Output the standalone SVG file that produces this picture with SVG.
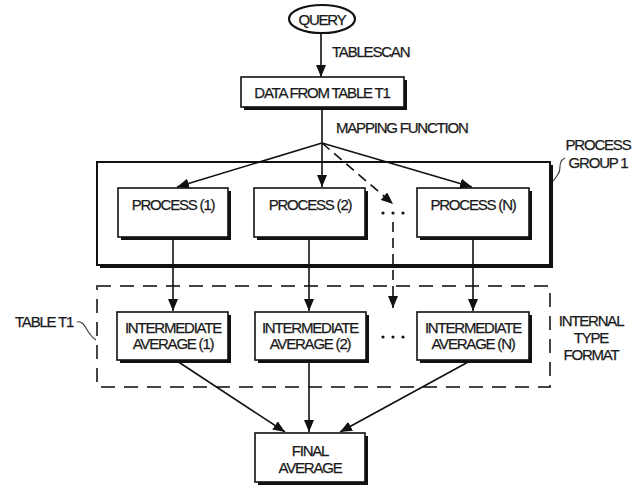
<svg xmlns="http://www.w3.org/2000/svg" width="644" height="487" viewBox="0 0 644 487">
<defs>
<style>
text{font-family:"Liberation Sans",Arial,sans-serif;font-size:15px;letter-spacing:-1.2px;fill:#1a1a1a;stroke:#1a1a1a;stroke-width:0.25px;}
.c{text-anchor:middle;}
.box{fill:#fff;stroke:#111;stroke-width:1.6;}
.sh{fill:none;stroke:#111;stroke-width:3;}
.ln{fill:none;stroke:#111;stroke-width:1.6;}
.dash{fill:none;stroke:#111;stroke-width:1.6;stroke-dasharray:10 6;}
.tbl{fill:none;stroke:#444;stroke-width:2;stroke-dasharray:14 9;}
.thin{fill:none;stroke:#444;stroke-width:1.2;}
</style>
<marker id="ah" markerUnits="userSpaceOnUse" markerWidth="12" markerHeight="10" refX="12" refY="5" orient="auto">
<path d="M0,0 L12,5 L0,10 z" fill="#111"/>
</marker>
</defs>
<rect width="644" height="487" fill="#fff"/>

<g id="process-group-1">
<rect x="97" y="162" width="453" height="103" fill="none" stroke="#111" stroke-width="2"/>
<polyline class="sh" points="100,266.5 551.5,266.5 551.5,165" stroke-width="3.5"/>
<text x="598" y="150" class="c">PROCESS</text>
<text x="598" y="168" class="c">GROUP 1</text>
<path class="thin" d="M565,158 C557,162 562,170 558,174 C556,177 555,179 553,181"/>
</g>

<g id="table-t1">
<rect class="tbl" x="97" y="286" width="453" height="101"/>
<text x="15" y="327">TABLE T1</text>
<path class="thin" d="M77,322 C84,320 86,330 90,334 C92,337 94,339 96,340"/>
<text x="591" y="326" class="c">INTERNAL</text>
<text x="591" y="343" class="c">TYPE</text>
<text x="591" y="360" class="c">FORMAT</text>
</g>

<g id="query">
<ellipse cx="322" cy="19" rx="33" ry="14" fill="#fff" stroke="#111" stroke-width="2.2"/>
<text x="322" y="25" class="c">QUERY</text>
</g>

<g id="data-from-table-t1">
<rect class="box" x="241" y="77" width="163" height="30"/>
<polyline class="sh" points="244,108.5 405.5,108.5 405.5,80"/>
<text x="322" y="98" class="c">DATA FROM TABLE T1</text>
</g>

<g id="process-1">
<rect class="box" x="118" y="188" width="110" height="49"/>
<polyline class="sh" points="121,238.5 229.5,238.5 229.5,191"/>
<text x="173" y="210" class="c">PROCESS (1)</text>
</g>
<g id="process-2">
<rect class="box" x="254" y="188" width="111" height="49"/>
<polyline class="sh" points="257,238.5 366.5,238.5 366.5,191"/>
<text x="310" y="210" class="c">PROCESS (2)</text>
</g>
<g id="process-n">
<rect class="box" x="417" y="188" width="112" height="49"/>
<polyline class="sh" points="420,238.5 530.5,238.5 530.5,191"/>
<text x="473" y="210" class="c">PROCESS (N)</text>
</g>

<g id="process-dots">
<circle cx="383" cy="213" r="1.6" fill="#111"/>
<circle cx="393" cy="213" r="1.6" fill="#111"/>
<circle cx="403" cy="213" r="1.6" fill="#111"/>
</g>

<g id="intermediate-1">
<rect class="box" x="117" y="312" width="111" height="48"/>
<polyline class="sh" points="120,361.5 229.5,361.5 229.5,315"/>
<text x="173" y="333" class="c">INTERMEDIATE</text>
<text x="173" y="349" class="c">AVERAGE (1)</text>
</g>
<g id="intermediate-2">
<rect class="box" x="255" y="312" width="111" height="48"/>
<polyline class="sh" points="258,361.5 367.5,361.5 367.5,315"/>
<text x="310" y="333" class="c">INTERMEDIATE</text>
<text x="310" y="349" class="c">AVERAGE (2)</text>
</g>
<g id="intermediate-n">
<rect class="box" x="417" y="312" width="112" height="48"/>
<polyline class="sh" points="420,361.5 530.5,361.5 530.5,315"/>
<text x="473" y="333" class="c">INTERMEDIATE</text>
<text x="473" y="349" class="c">AVERAGE (N)</text>
</g>

<g id="intermediate-dots">
<circle cx="383" cy="337" r="1.6" fill="#111"/>
<circle cx="393" cy="337" r="1.6" fill="#111"/>
<circle cx="403" cy="337" r="1.6" fill="#111"/>
</g>

<g id="final-average">
<rect class="box" x="255" y="433" width="110" height="49"/>
<polyline class="sh" points="258,483.5 366.5,483.5 366.5,436"/>
<text x="310" y="456" class="c">FINAL</text>
<text x="310" y="473" class="c">AVERAGE</text>
</g>

<g id="connectors">
<line class="ln" x1="321" y1="33" x2="321" y2="77" marker-end="url(#ah)"/>
<text x="332" y="57">TABLESCAN</text>
<line class="ln" x1="322" y1="107" x2="322" y2="143"/>
<text x="336" y="133">MAPPING FUNCTION</text>
<line class="ln" x1="322" y1="143" x2="177" y2="187" marker-end="url(#ah)"/>
<line class="ln" x1="322" y1="143" x2="322" y2="187" marker-end="url(#ah)"/>
<line class="dash" x1="322" y1="143" x2="393" y2="204" marker-end="url(#ah)"/>
<line class="ln" x1="322" y1="143" x2="472" y2="187" marker-end="url(#ah)"/>
<line class="ln" x1="173" y1="238" x2="173" y2="311" marker-end="url(#ah)"/>
<line class="ln" x1="309" y1="238" x2="309" y2="311" marker-end="url(#ah)"/>
<line class="ln" x1="473" y1="238" x2="473" y2="311" marker-end="url(#ah)"/>
<line class="dash" x1="393" y1="222" x2="393" y2="308" marker-end="url(#ah)"/>
<line class="ln" x1="177" y1="361" x2="285" y2="432" marker-end="url(#ah)"/>
<line class="ln" x1="309" y1="361" x2="309" y2="432" marker-end="url(#ah)"/>
<line class="ln" x1="470" y1="361" x2="340" y2="432" marker-end="url(#ah)"/>
</g>
</svg>
